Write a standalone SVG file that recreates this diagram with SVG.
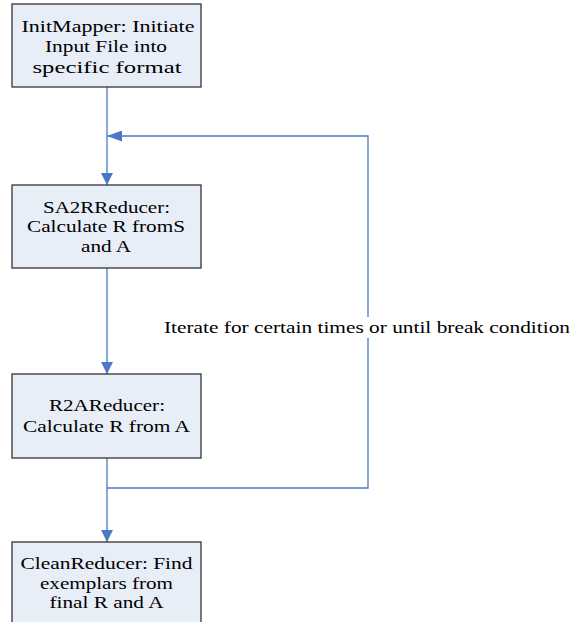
<svg xmlns="http://www.w3.org/2000/svg" width="571" height="622" viewBox="0 0 571 622">
<defs>
<style>
.box{fill:#E8EEF8;stroke:#333;stroke-width:1.3}
.t{font-family:"Liberation Serif","Times New Roman",serif;font-size:17.5px;fill:#000;text-anchor:middle}
.c{fill:none;stroke:#4A78C4;stroke-width:1.3}
.lbl{font-family:"Liberation Serif","Times New Roman",serif;font-size:17.5px;fill:#000}
</style>
<marker id="ah" viewBox="0 0 12 12" refX="12" refY="6" markerWidth="12" markerHeight="12" markerUnits="userSpaceOnUse" orient="auto">
<path d="M0,0 L12,6 L0,12 Z" fill="#4A78C4"/>
</marker>
<marker id="ahl" viewBox="0 0 15 11" refX="15" refY="5.5" markerWidth="15" markerHeight="11" markerUnits="userSpaceOnUse" orient="auto">
<path d="M0,0 L15,5.5 L0,11 Z" fill="#4A78C4"/>
</marker>
</defs>
<rect width="571" height="622" fill="#fff"/>
<g id="connectors">
<path class="c" d="M107,87 V185" marker-end="url(#ah)"/>
<path class="c" d="M107,268 V374" marker-end="url(#ah)"/>
<path class="c" d="M107,458 V542" marker-end="url(#ah)"/>
<path class="c" d="M107,488 H368 V136 H107" marker-end="url(#ahl)"/>
<rect x="160" y="317" width="411" height="21" fill="#fff"/>
<text class="lbl" x="164" y="333" textLength="406" lengthAdjust="spacingAndGlyphs">Iterate for certain times or until break condition</text>
</g>
<g id="initmapper">
<rect class="box" x="12" y="4" width="189" height="83"/>
<text class="t" x="108" y="31.5" textLength="173" lengthAdjust="spacingAndGlyphs">InitMapper: Initiate</text>
<text class="t" x="106" y="52" textLength="122" lengthAdjust="spacingAndGlyphs">Input File into</text>
<text class="t" x="107" y="72.5" textLength="149" lengthAdjust="spacingAndGlyphs">specific format</text>
</g>
<g id="sa2rreducer">
<rect class="box" x="12" y="185" width="189" height="83"/>
<text class="t" x="106.5" y="212.5" textLength="127" lengthAdjust="spacingAndGlyphs">SA2RReducer:</text>
<text class="t" x="106" y="232" textLength="158" lengthAdjust="spacingAndGlyphs">Calculate R fromS</text>
<text class="t" x="106" y="251.5" textLength="50" lengthAdjust="spacingAndGlyphs">and A</text>
</g>
<g id="r2areducer">
<rect class="box" x="12" y="374" width="189" height="84"/>
<text class="t" x="107" y="411" textLength="116" lengthAdjust="spacingAndGlyphs">R2AReducer:</text>
<text class="t" x="106.5" y="431.5" textLength="167" lengthAdjust="spacingAndGlyphs">Calculate R from A</text>
</g>
<g id="cleanreducer">
<rect class="box" x="12" y="542" width="189" height="90"/>
<text class="t" x="106.5" y="569" textLength="172" lengthAdjust="spacingAndGlyphs">CleanReducer: Find</text>
<text class="t" x="106.5" y="588.5" textLength="133" lengthAdjust="spacingAndGlyphs">exemplars from</text>
<text class="t" x="106.5" y="608" textLength="114" lengthAdjust="spacingAndGlyphs">final R and A</text>
</g>
</svg>
